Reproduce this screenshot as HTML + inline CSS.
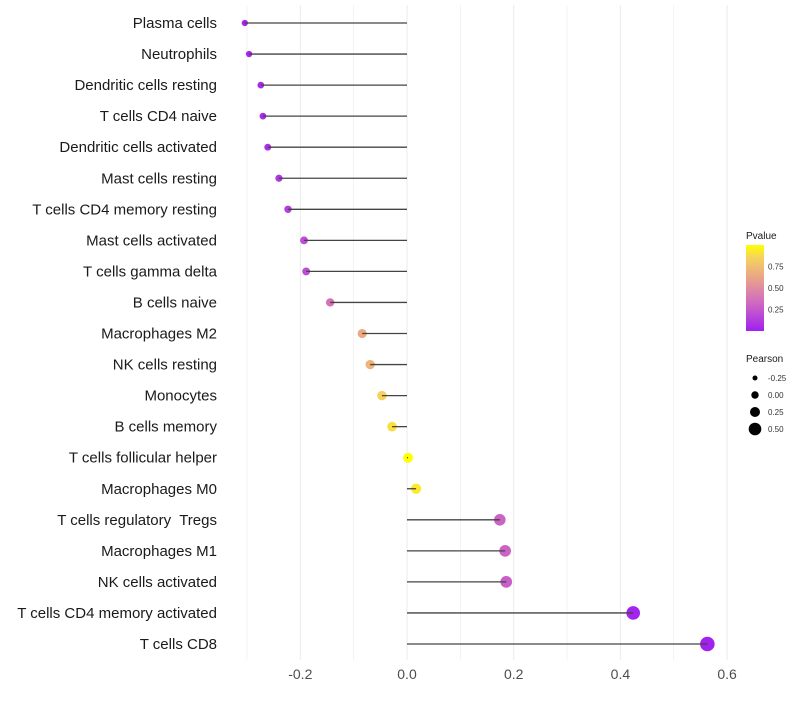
<!DOCTYPE html>
<html><head><meta charset="utf-8"><style>
body{margin:0;background:#fff;font-family:"Liberation Sans",sans-serif}
text{white-space:pre}
</style></head><body>
<svg id="chart" width="800" height="700" xmlns="http://www.w3.org/2000/svg"></svg>
<script>
const categories=["Plasma cells","Neutrophils","Dendritic cells resting","T cells CD4 naive","Dendritic cells activated","Mast cells resting","T cells CD4 memory resting","Mast cells activated","T cells gamma delta","B cells naive","Macrophages M2","NK cells resting","Monocytes","B cells memory","T cells follicular helper","Macrophages M0","T cells regulatory  Tregs","Macrophages M1","NK cells activated","T cells CD4 memory activated","T cells CD8"];
const pearson=[-0.304,-0.296,-0.274,-0.270,-0.261,-0.240,-0.223,-0.193,-0.189,-0.144,-0.084,-0.069,-0.047,-0.028,0.002,0.017,0.174,0.184,0.186,0.424,0.563];
const pvalue=[0.02,0.03,0.05,0.05,0.07,0.1,0.13,0.2,0.2,0.37,0.65,0.7,0.85,0.9,1.0,0.93,0.3,0.3,0.28,0.02,0.005];
const xTicks=[-0.2,0,0.2,0.4,0.6];
const xTickLabels=["-0.2","0.0","0.2","0.4","0.6"];
const sizeLegend=[-0.25,0,0.25,0.5];
const colorTicks=[0.25,0.5,0.75];

const NS="http://www.w3.org/2000/svg";
const svg=document.getElementById('chart');
function el(t,a,p){const e=document.createElementNS(NS,t);for(const k in a)e.setAttribute(k,a[k]);(p||svg).appendChild(e);return e;}
const x=v=>407+v*533.5;
const y=i=>23+i*31.05;
const r=p=>Math.sqrt(Math.max(5,25+p*50));
function col(p){const s=[[0,[160,32,240]],[0.35,[210,110,190]],[0.65,[235,170,130]],[0.85,[245,210,95]],[1,[255,255,0]]];
 for(let i=1;i<s.length;i++){if(p<=s[i][0]){const t=(p-s[i-1][0])/(s[i][0]-s[i-1][0]);const a=s[i-1][1],b=s[i][1];return `rgb(${a.map((v,k)=>Math.round(v+(b[k]-v)*t)).join(',')})`;}}return 'rgb(255,255,0)';}
for(let v=-0.3;v<=0.61;v+=0.1){const g=el('line',{x1:x(v),x2:x(v),y1:5,y2:660,stroke:'#ebebeb','stroke-width':Math.abs(Math.round(v*10))%2===0?1:0.6});
}
xTicks.forEach((v,i)=>{const t=el('text',{x:x(v),y:679,'text-anchor':'middle','font-size':14,fill:'#4d4d4d'});t.textContent=xTickLabels[i];
});
categories.forEach((c,i)=>{
 const t=el('text',{x:217,y:y(i)+5,'text-anchor':'end','font-size':15,fill:'#1a1a1a'});t.textContent=c;
 
 const d=el('circle',{cx:x(pearson[i]),cy:y(i),r:r(pearson[i]),fill:col(pvalue[i])});
 
 const l=el('line',{x1:x(0),x2:x(pearson[i]),y1:y(i),y2:y(i),stroke:'#444','stroke-width':1.3});
 
});
const lt=el('text',{x:746,y:239,'font-size':10,fill:'#1a1a1a'});lt.textContent='Pvalue';

const defs=el('defs',{});const gr=el('linearGradient',{id:'pg',x1:0,y1:1,x2:0,y2:0},defs);
[0,0.2,0.35,0.5,0.65,0.85,1].forEach(o=>el('stop',{offset:o,'stop-color':col(o)},gr));
const bar=el('rect',{x:746,y:245,width:18,height:86,fill:'url(#pg)'});

const cy=p=>331-p*86;
colorTicks.forEach(p=>{const t=el('text',{x:768,y:cy(p)+3,'font-size':8,fill:'#333'});t.textContent=p.toFixed(2);
});
const st=el('text',{x:746,y:362,'font-size':10,fill:'#1a1a1a'});st.textContent='Pearson';

const lr=[2.5,3.7,5,6.3];
sizeLegend.forEach((p,i)=>{const yy=378+i*17;
 const c=el('circle',{cx:755,cy:yy,r:lr[i],fill:'#000'});
 const t=el('text',{x:768,y:yy+3,'font-size':8,fill:'#333'});t.textContent=p.toFixed(2);
 });
</script>
</body></html>
